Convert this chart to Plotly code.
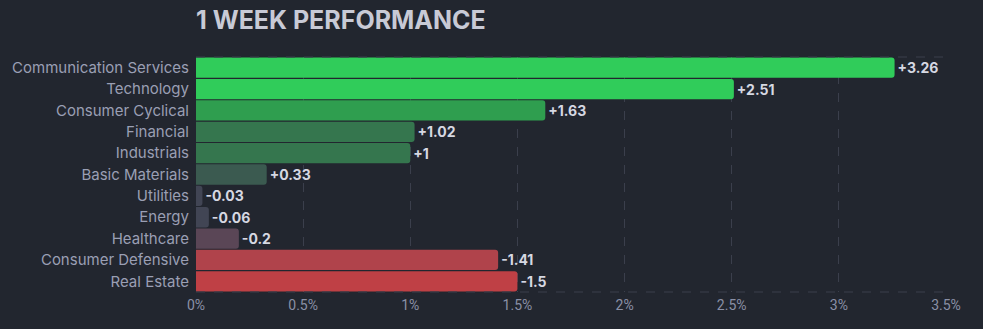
import plotly.graph_objects as go

sectors = ["Communication Services", "Technology", "Consumer Cyclical", "Financial",
           "Industrials", "Basic Materials", "Utilities", "Energy", "Healthcare",
           "Consumer Defensive", "Real Estate"]
changes = [3.26, 2.51, 1.63, 1.02, 1.00, 0.33, -0.03, -0.06, -0.20, -1.41, -1.50]
colors = ["#30cc5a", "#30cc5a", "#2f9e4f", "#35764e", "#35764e", "#3b5a50",
          "#414554", "#414554", "#5a4656", "#b0434b", "#bf4045"]
x_ticks = [0, 0.5, 1, 1.5, 2, 2.5, 3, 3.5]
x_tick_labels = ["0%", "0.5%", "1%", "1.5%", "2%", "2.5%", "3%", "3.5%"]

def fmt(v):
    s = ("%.2f" % v).rstrip("0").rstrip(".")
    return ("+" + s) if v > 0 else s

BG = "#22262f"
GRID = "#3b3f4c"

fig = go.Figure(go.Bar(
    y=sectors,
    x=[abs(v) for v in changes],
    orientation="h",
    marker=dict(color=colors, line=dict(width=0), cornerradius=3),
    text=[fmt(v) for v in changes],
    textposition="outside",
    textfont=dict(family="Inter", size=14, color="#d6d8e2", weight="bold"),
    cliponaxis=False,
    hoverinfo="skip",
))

fig.update_layout(
    width=983, height=329,
    paper_bgcolor=BG, plot_bgcolor=BG,
    margin=dict(l=196, r=37, t=57, b=37),
    bargap=0.05,
    showlegend=False,
    title=dict(text="<b>1 WEEK PERFORMANCE</b>", x=196/983, xanchor="left",
               y=1 - 20/329, yanchor="middle",
               font=dict(family="Inter", size=25, color="#c8cad6")),
    xaxis=dict(range=[0, 3.5], tickvals=x_ticks, ticktext=x_tick_labels,
               showgrid=True, gridcolor=GRID, griddash="dash", gridwidth=1,
               zeroline=False, showline=False, ticks="", ticklabelstandoff=3,
               tickfont=dict(family="Roboto", size=14, color="#8a90a6")),
    yaxis=dict(autorange="reversed", showgrid=False, zeroline=False, ticks="",
               ticklabelstandoff=6,
               tickfont=dict(family="Inter", size=15, color="#9a9fb4")),
    shapes=[
        dict(type="line", xref="paper", yref="paper", x0=0, x1=1, y0=1, y1=1,
             line=dict(color=GRID, width=1, dash="dash")),
        dict(type="line", xref="paper", yref="paper", x0=0, x1=1, y0=0, y1=0,
             line=dict(color=GRID, width=1, dash="dash")),
    ],
)

fig.write_html("out.html")
